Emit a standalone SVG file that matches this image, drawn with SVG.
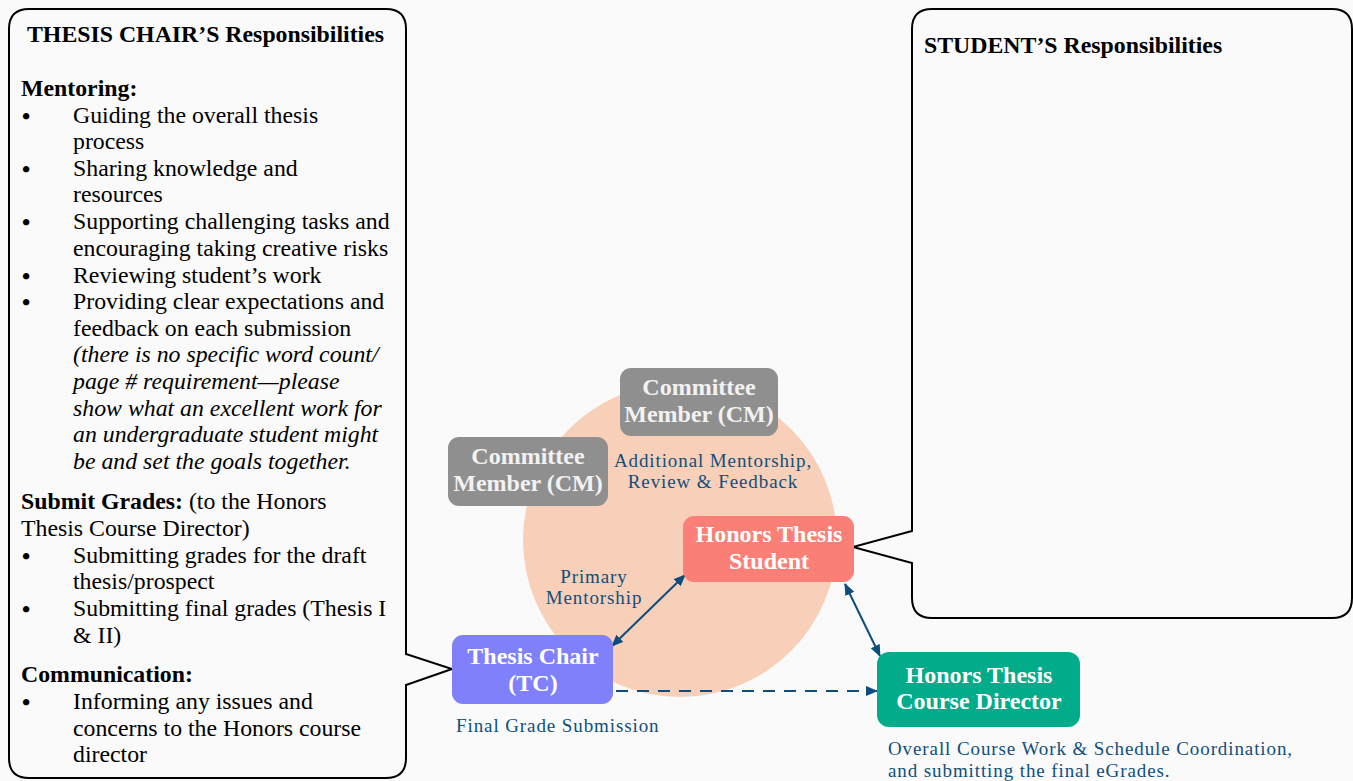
<svg xmlns="http://www.w3.org/2000/svg" width="1353" height="781" viewBox="0 0 1353 781">
<defs>
<marker id="ah" viewBox="0 0 12 10" refX="11" refY="5" markerWidth="12" markerHeight="10" orient="auto-start-reverse" markerUnits="userSpaceOnUse">
<path d="M0,0 L12,5 L0,10 z" fill="#0b4d7c"/>
</marker>
<style>
.txt{font-family:"Liberation Serif","Times New Roman",serif;font-size:23.8px;fill:#000}
.b{font-weight:bold}
.i{font-style:italic}
.bul{font-size:23.5px;font-weight:bold}
.callout{fill:#fafafa;stroke:#000;stroke-width:2}
.node{font-family:"Liberation Serif","Times New Roman",serif;font-size:24px;font-weight:bold;text-anchor:middle}
.lbl{font-family:"Liberation Serif","Times New Roman",serif;font-size:19px;letter-spacing:0.9px;fill:#0f4f7c}
.conn{stroke:#0b4d7c;stroke-width:2;fill:none}
</style>
</defs>
<rect width="1353" height="781" fill="#fafafa"/>
<circle cx="680" cy="540" r="157" fill="#f8cfb8"/>

<g id="chair-callout">
<path class="callout" d="M29,9 H386 Q406,9 406,29 V654 L452,669 L406,685 V758 Q406,778 386,778 H29 Q9,778 9,758 V29 Q9,9 29,9 Z"/>
<g class="txt">
<text x="27" y="42" class="b">THESIS CHAIR’S Responsibilities</text>
<text x="21" y="96" class="b">Mentoring:</text>
<text y="123"><tspan x="22" dy="1" class="bul">•</tspan><tspan x="73" dy="-1">Guiding the overall thesis</tspan></text>
<text x="73" y="149">process</text>
<text y="176"><tspan x="22" dy="1" class="bul">•</tspan><tspan x="73" dy="-1">Sharing knowledge and</tspan></text>
<text x="73" y="202">resources</text>
<text y="229"><tspan x="22" dy="1" class="bul">•</tspan><tspan x="73" dy="-1">Supporting challenging tasks and</tspan></text>
<text x="73" y="256">encouraging taking creative risks</text>
<text y="283"><tspan x="22" dy="1" class="bul">•</tspan><tspan x="73" dy="-1">Reviewing student’s work</tspan></text>
<text y="309"><tspan x="22" dy="1" class="bul">•</tspan><tspan x="73" dy="-1">Providing clear expectations and</tspan></text>
<text x="73" y="336">feedback on each submission</text>
<text x="73" y="362" class="i">(there is no specific word count/</text>
<text x="73" y="389" class="i">page # requirement—please</text>
<text x="73" y="416" class="i">show what an excellent work for</text>
<text x="73" y="442" class="i">an undergraduate student might</text>
<text x="73" y="469" class="i">be and set the goals together.</text>
<text x="21" y="509"><tspan class="b">Submit Grades:</tspan> (to the Honors</text>
<text x="21" y="536">Thesis Course Director)</text>
<text y="563"><tspan x="22" dy="1" class="bul">•</tspan><tspan x="73" dy="-1">Submitting grades for the draft</tspan></text>
<text x="73" y="589">thesis/prospect</text>
<text y="616"><tspan x="22" dy="1" class="bul">•</tspan><tspan x="73" dy="-1">Submitting final grades (Thesis I</tspan></text>
<text x="73" y="643">&amp; II)</text>
<text x="21" y="682" class="b">Communication:</text>
<text y="709"><tspan x="22" dy="1" class="bul">•</tspan><tspan x="73" dy="-1">Informing any issues and</tspan></text>
<text x="73" y="736">concerns to the Honors course</text>
<text x="73" y="762">director</text>
</g>
</g>

<g id="student-callout">
<path class="callout" d="M932,9 H1332 Q1352,9 1352,29 V598 Q1352,618 1332,618 H932 Q912,618 912,598 V563 L853,547 L912,531 V29 Q912,9 932,9 Z"/>
<text x="924" y="53" class="txt b">STUDENT’S Responsibilities</text>
</g>

<g id="connectors">
<line class="conn" x1="612" y1="646" x2="685" y2="575" marker-start="url(#ah)" marker-end="url(#ah)"/>
<line class="conn" x1="845" y1="584" x2="880" y2="656" marker-start="url(#ah)" marker-end="url(#ah)"/>
<line class="conn" x1="616" y1="691" x2="877" y2="691" stroke-dasharray="12,9" marker-end="url(#ah)"/>
</g>

<g id="cm1">
<rect x="620" y="368" width="158" height="68" rx="11" fill="#8f8f8f"/>
<text class="node" fill="#f2f2f2"><tspan x="699" y="395">Committee</tspan><tspan x="699" y="422">Member (CM)</tspan></text>
</g>
<g id="cm2">
<rect x="448" y="437" width="160" height="69" rx="11" fill="#8f8f8f"/>
<text class="node" fill="#f2f2f2"><tspan x="528" y="464">Committee</tspan><tspan x="528" y="491">Member (CM)</tspan></text>
</g>
<g id="student">
<rect x="683" y="516" width="171" height="66" rx="11" fill="#fa7f76"/>
<text class="node" fill="#fff"><tspan x="769" y="542">Honors Thesis</tspan><tspan x="769" y="569">Student</tspan></text>
</g>
<g id="chair">
<rect x="452" y="635" width="161" height="69" rx="11" fill="#7f80fa"/>
<text class="node" fill="#fff"><tspan x="533" y="664">Thesis Chair</tspan><tspan x="533" y="691">(TC)</tspan></text>
</g>
<g id="director">
<rect x="877" y="652" width="203" height="75" rx="12" fill="#02ab8a"/>
<text class="node" fill="#fff"><tspan x="979" y="683">Honors Thesis</tspan><tspan x="979" y="709">Course Director</tspan></text>
</g>

<g id="labels">
<text class="lbl" text-anchor="middle"><tspan x="713" y="467">Additional Mentorship,</tspan><tspan x="713" y="488">Review &amp; Feedback</tspan></text>
<text class="lbl" text-anchor="middle"><tspan x="594" y="583">Primary</tspan><tspan x="594" y="604">Mentorship</tspan></text>
<text x="456" y="732" class="lbl">Final Grade Submission</text>
<text class="lbl"><tspan x="888" y="755">Overall Course Work &amp; Schedule Coordination,</tspan><tspan x="888" y="777">and submitting the final eGrades.</tspan></text>
</g>
</svg>
